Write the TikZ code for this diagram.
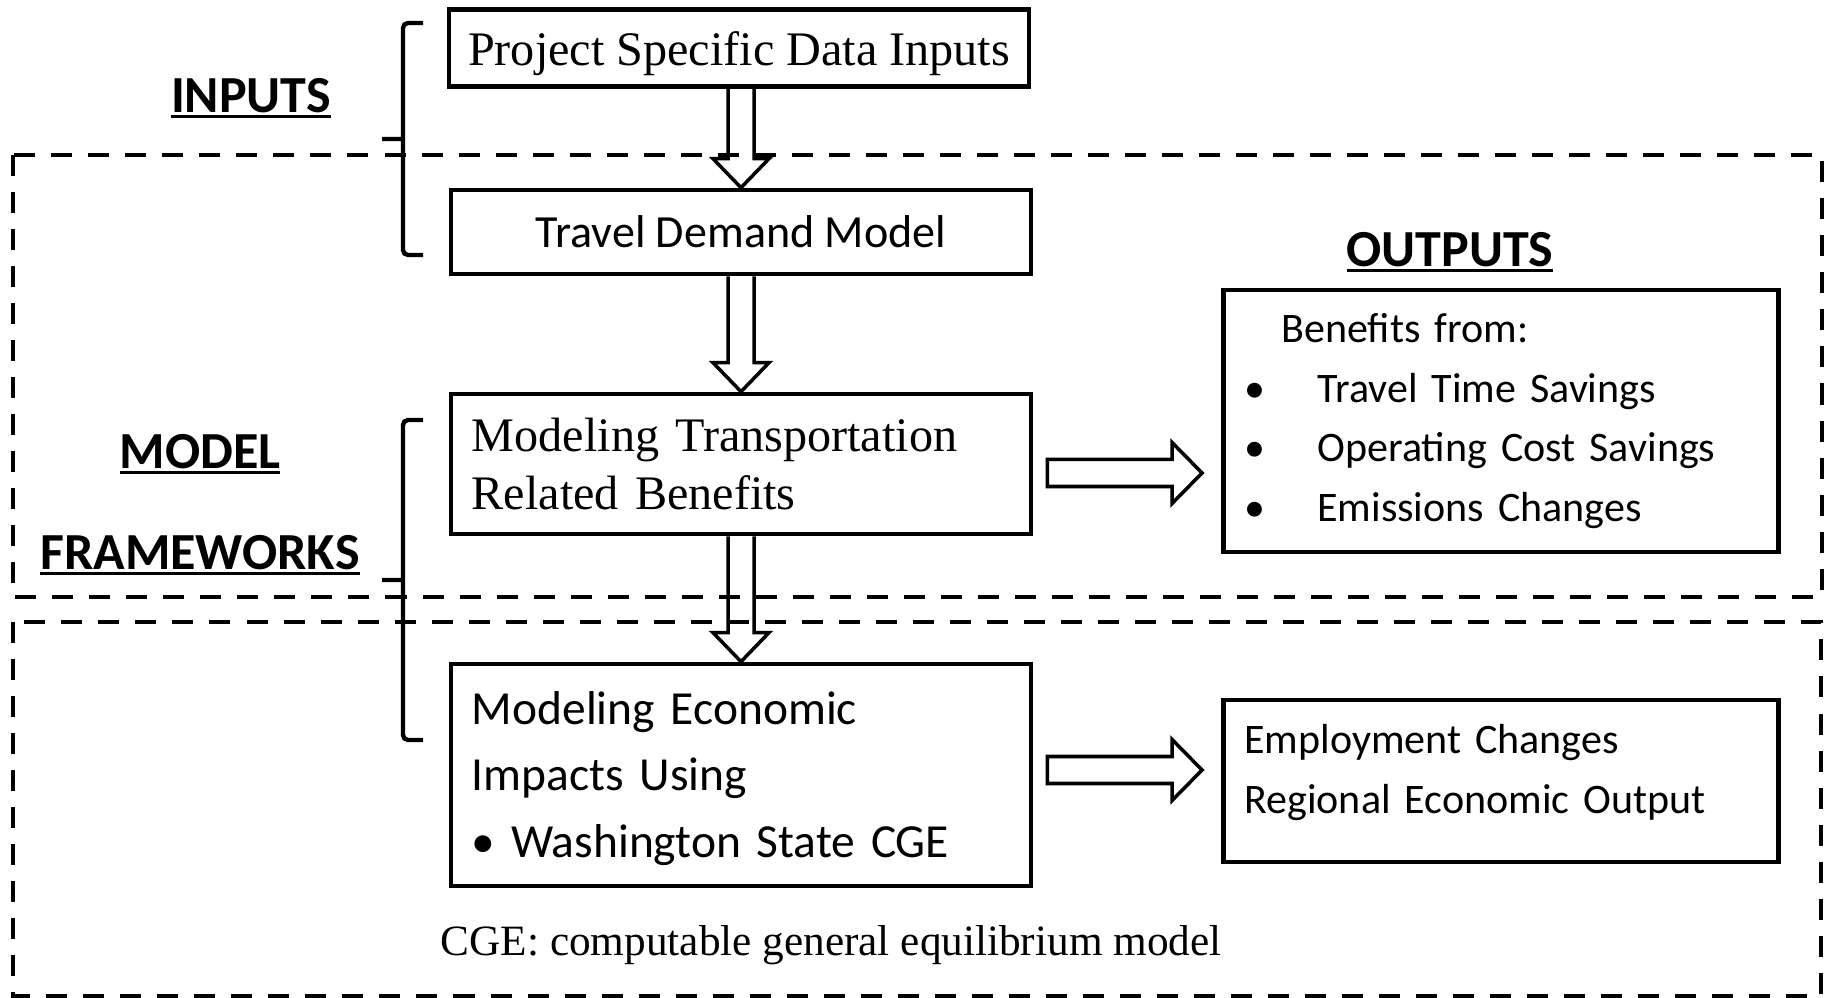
\documentclass[tikz,border=0pt]{standalone}
\usepackage{fontspec}
\setmainfont{Liberation Serif}
\newfontfamily\calibri{Carlito}
\usetikzlibrary{calc}

% underlined heading, rule a little below the baseline
\newcommand{\ulabel}[1]{\setbox0\hbox{#1}\rlap{\rule[-1.6pt]{\wd0}{0.8pt}}\box0}

% open block arrows between two boxes
\newcommand{\hollowdown}[2]{%
  \draw[hollow] ($(#1.south -| #2.north)+(-13,0)$) -- ($(#2.north)+(-13,-29)$)
    -- ($(#2.north)+(-28,-29)$) -- (#2.north) -- ($(#2.north)+(28,-29)$)
    -- ($(#2.north)+(13,-29)$) -- ($(#1.south -| #2.north)+(13,0)$);}
\newcommand{\hollowright}[3][0]{%
  \coordinate (hs) at ($(#2.east)+(14,#1)$);
  \coordinate (ht) at ($(#3.west |- hs)+(-19,0)$);
  \draw[hollow] ($(hs)+(0,-13.5)$) -- ($(ht)+(-30,-13.5)$) -- ($(ht)+(-30,-30.5)$)
    -- (ht) -- ($(ht)+(-30,30.5)$) -- ($(ht)+(-30,13.5)$) -- ($(hs)+(0,13.5)$) -- cycle;}

\begin{document}
\begin{tikzpicture}[
  x=0.01cm, y=-0.01cm,
  box/.style={draw, line width=1.3pt, minimum width=5.8cm, inner sep=0pt},
  hollow/.style={line width=1pt, line join=miter},
  region/.style={draw, line width=1.35pt, dash pattern=on 0.21cm off 0.16cm},
  brace/.style={line width=1.25pt, rounded corners=0.05cm},
  heading/.style={font=\calibri\bfseries\fontsize{14.8}{17}\selectfont}
]
  \useasboundingbox (0,0) rectangle (1827,998);

  % Dashed regions
  \draw[region] (13,155) rectangle (1822,597);
  \draw[region] (13,622) rectangle (1821,996);

  % Headings
  \node[heading] (inputs) at (251,98) {\ulabel{INPUTS}};
  \node[heading] (model) at (200,454) {\ulabel{MODEL}};
  \node[heading] (frameworks) at (200,555) {\ulabel{FRAMEWORKS}};
  \node[heading] (outputs) at (1450,252) {\ulabel{OUTPUTS}};

  % Braces
  \draw[brace] (423,23) -- (403,23) -- (403,255) -- (423,255) (403,139) -- (382,139);
  \draw[brace] (423,420) -- (403,420) -- (403,740) -- (423,740) (403,580) -- (382,580);

  % Model chain
  \node[box, minimum height=0.77cm, text height=12.9pt, text depth=3pt, font=\fontsize{13.7}{16}\selectfont] (data) at (739,48) {Project Specific Data Inputs};
  \node[box, minimum height=0.84cm, font=\calibri\fontsize{13.1}{16}\selectfont] (demand) at (741,232) {Travel Demand Model};
  \node[box, minimum height=1.40cm, text width=5.38cm, align=left, font=\fontsize{13.7}{16.5}\selectfont] (transport) at (741,464) {Modeling Transportation\\Related Benefits};
  \node[box, minimum height=2.22cm, text width=5.38cm, text height=11.4pt, align=left, font=\calibri\fontsize{13.5}{18.9}\selectfont] (economic) at (741,775) {Modeling Economic\\Impacts Using\\• Washington State CGE};

  % Outputs
  \node[box, minimum width=5.55cm, minimum height=2.62cm, text width=5.13cm, align=left, font=\calibri\fontsize{11.95}{16.9}\selectfont] (benefits) at (1501,421)
    {\hspace*{0.37cm}Benefits from:\\
     \makebox[0.73cm][l]{•}Travel Time Savings\\
     \makebox[0.73cm][l]{•}Operating Cost Savings\\
     \makebox[0.73cm][l]{•}Emissions Changes};
  \node[box, minimum width=5.55cm, minimum height=1.62cm, text width=5.13cm, text depth=24pt, align=left, font=\calibri\fontsize{11.95}{17.1}\selectfont] (impacts) at (1501,781)
    {Employment Changes\\Regional Economic Output};

  \node[anchor=west, inner sep=0pt, font=\fontsize{12.3}{14}\selectfont] (note) at (440,945) {CGE: computable general equilibrium model};

  % Block arrows
  \hollowdown{data}{demand}
  \hollowdown{demand}{transport}
  \hollowdown{transport}{economic}
  \hollowright[9]{transport}{benefits}
  \hollowright[-5]{economic}{impacts}
\end{tikzpicture}
\end{document}
